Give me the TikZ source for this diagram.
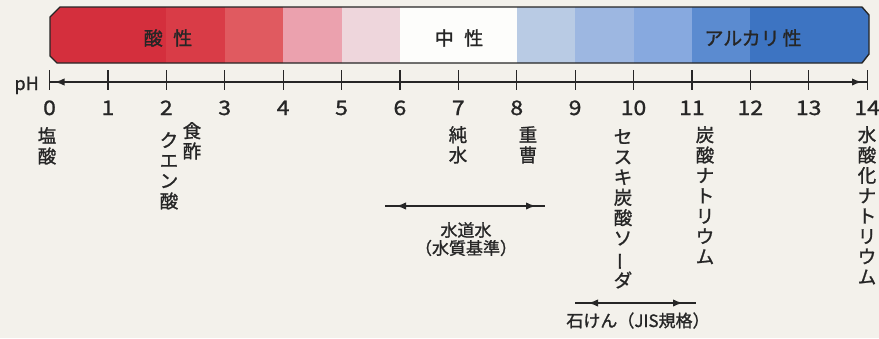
\documentclass[tikz,border=0pt]{standalone}
\usepackage{fontspec}
\newfontfamily\jp[FakeBold=1.2]{Noto Sans CJK JP}
\newfontfamily\jpnum[FakeStretch=1.15,FakeBold=1.2]{Noto Sans CJK JP}
\usetikzlibrary{arrows.meta,calc}
\definecolor{paper}{HTML}{F3F1EB}
\definecolor{ink}{HTML}{262626}
\definecolor{r1}{HTML}{D42F3D}
\definecolor{r2}{HTML}{D93C47}
\definecolor{r3}{HTML}{E05A60}
\definecolor{r4}{HTML}{EBA1AE}
\definecolor{r5}{HTML}{EED6DC}
\definecolor{w0}{HTML}{FDFDFB}
\definecolor{b1}{HTML}{B9CBE4}
\definecolor{b2}{HTML}{9DB7E1}
\definecolor{b3}{HTML}{87A9DF}
\definecolor{b4}{HTML}{5B8BD0}
\definecolor{b5}{HTML}{3D74C2}
\tikzset{
  bandlabel/.style={font=\jp\fontsize{19}{20}\selectfont, text=ink, inner sep=0pt},
  numlabel/.style={font=\jpnum\fontsize{20}{22}\selectfont, text=ink, inner sep=0pt, anchor=base},
  vlabel/.style={font=\jp\fontsize{18.5}{20.3}\selectfont, text=ink, inner sep=0pt, anchor=north, align=center},
  hlabel/.style={font=\jp\fontsize{17}{18}\selectfont, text=ink, inner sep=0pt, align=center},
  tickline/.style={draw=ink, line width=1.2pt},
  rangeline/.style={draw=ink, line width=1.2pt},
  tiparrow/.style={draw=ink, fill=ink, line width=2.4pt, -{Latex[length=10pt,width=7.5pt]}},
}
\begin{document}
\begin{tikzpicture}[x=1pt,y=-1pt]
\fill[paper] (0,0) rectangle (879,338);
\useasboundingbox (0,0) rectangle (879,338);
% colour bar
\begin{scope}
\clip (50,17) -- (60,7) -- (862,7) -- (869,15) -- (869,54) -- (862,63) -- (57,63) -- (50,56) -- cycle;
\foreach \a/\b/\c in {-1/2/r1,2/3/r2,3/4/r3,4/5/r4,5/6/r5,6/8/w0,8/9/b1,9/10/b2,10/11/b3,11/12/b4,12/15/b5}
  \fill[\c] ({49.5+58.4*\a},0) rectangle ({49.5+58.4*\b},70);
\end{scope}
\draw[ink, line width=1.4pt, line join=round] (50,17) -- (60,7) -- (862,7) -- (869,15) -- (869,54) -- (862,63) -- (57,63) -- (50,56) -- cycle;
\node[bandlabel] (acid) at (168,38) {酸\hspace{0.55em}性};
\node[bandlabel] (neutral) at (459,38) {中\hspace{0.55em}性};
\node[bandlabel] (alkali) at (753,38) {アルカリ\hspace{0.15em}性};
% axis
\node[font=\jp\fontsize{18}{20}\selectfont, text=ink, inner sep=0pt, anchor=base east] (ph) at (39,90) {pH};
\coordinate (ph0) at (49.5,82);
\coordinate (ph14) at (867,82);
\draw[rangeline] (ph0) -- (ph14);
\draw[tiparrow] ($(ph0)+(22,0)$) -- ($(ph0)+(5,0)$);
\draw[tiparrow] ($(ph14)+(-22,0)$) -- ($(ph14)+(-5,0)$);
\foreach \i in {0,...,14} {
  \draw[tickline] ({49.5+58.4*\i},70) -- ({49.5+58.4*\i},90);
  \node[numlabel] (n\i) at ({49.5+58.4*\i},115) {\i};
}
% substances
\node[vlabel] (hcl) at (47,127) {塩\\酸};
\node[vlabel] (citric) at (169,132) {ク\\エ\\ン\\酸};
\node[vlabel] (vinegar) at (192,122) {食\\酢};
\node[vlabel] (purewater) at (458,126) {純\\水};
\node[vlabel] (soda) at (528,126) {重\\曹};
\node[vlabel] (sesqui) at (623,129) {セ\\ス\\キ\\炭\\酸\\ソ\\\rotatebox[origin=c]{90}{ー}\\ダ};
\node[vlabel] (na2co3) at (705,126) {炭\\酸\\ナ\\ト\\リ\\ウ\\ム};
\node[vlabel] (naoh) at (867,126) {水\\酸\\化\\ナ\\ト\\リ\\ウ\\ム};
% ranges
\coordinate (tw1) at (385,206);
\coordinate (tw2) at (545,206);
\draw[rangeline] (tw1) -- (tw2);
\draw[tiparrow] ($(tw1)+(24,0)$) -- ($(tw1)+(11,0)$);
\draw[tiparrow] ($(tw2)+(-23,0)$) -- ($(tw2)+(-9,0)$);
\node[hlabel, anchor=north] (tapwater) at (466,222) {水道水\\（水質基準）};
\coordinate (sp1) at (575,303);
\coordinate (sp2) at (696,303);
\draw[rangeline] (sp1) -- (sp2);
\draw[tiparrow] ($(sp1)+(26,0)$) -- ($(sp1)+(13,0)$);
\draw[tiparrow] ($(sp2)+(-26,0)$) -- ($(sp2)+(-13,0)$);
\node[hlabel, anchor=base] (soap) at (638,327) {石けん（JIS規格）};
\end{tikzpicture}
\end{document}
